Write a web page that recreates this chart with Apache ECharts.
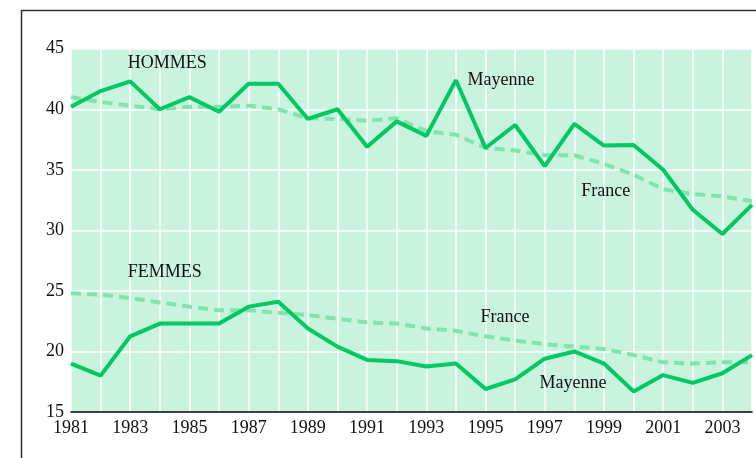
<!DOCTYPE html>
<html>
<head>
<meta charset="utf-8">
<script src="https://cdn.jsdelivr.net/npm/echarts@6/dist/echarts.min.js"></script>
<style>
  html, body { margin: 0; padding: 0; background: #fff; }
  #chart { width: 756px; height: 458px; }
</style>
</head>
<body>
<div id="chart"></div>
<script>
// années
var years = [1981,1982,1983,1984,1985,1986,1987,1988,1989,1990,1991,1992,
             1993,1994,1995,1996,1997,1998,1999,2000,2001,2002,2003,2004];

// hommes
var hommesMayenne = [40.2,41.5,42.3,40.0,41.0,39.8,42.1,42.1,39.2,40.0,36.9,39.0,
                     37.8,42.4,36.8,38.7,35.3,38.8,37.0,37.05,35.0,31.7,29.7,32.1];
var hommesFrance  = [41.0,40.6,40.3,40.0,40.2,40.2,40.3,40.0,39.25,39.2,39.05,39.25,
                     38.2,37.9,36.8,36.6,36.2,36.2,35.5,34.6,33.4,33.0,32.8,32.4];

// femmes
var femmesMayenne = [19.0,18.0,21.25,22.3,22.3,22.3,23.7,24.1,21.9,20.4,19.3,19.2,
                     18.75,19.0,16.9,17.7,19.4,20.0,19.0,16.7,18.05,17.4,18.2,19.7];
var femmesFrance  = [24.8,24.7,24.4,24.05,23.7,23.4,23.4,23.2,23.0,22.7,22.4,22.3,
                     21.9,21.7,21.25,20.9,20.6,20.4,20.2,19.7,19.1,19.0,19.1,19.1];

var yTicks = [15, 20, 25, 30, 35, 40, 45];

// textes dans le graphique : [texte, année, valeur]
var notes = [
  ['HOMMES', 1982.92, 43.8],
  ['Mayenne', 1994.39, 42.4],
  ['France', 1998.23, 33.25],
  ['FEMMES', 1982.92, 26.55],
  ['France', 1994.83, 22.85],
  ['Mayenne', 1996.82, 17.4]
];

function pairs(vals) {
  return years.map(function (y, i) { return [y, vals[i]]; });
}

var police = 'Liberation Serif, Times New Roman, serif';
var vertFonce = '#00c864';
var vertClair = '#80e4ae';

var myChart = echarts.init(document.getElementById('chart'));

var option = {
  animation: false,
  grid: {
    left: 71, right: 4, top: 48.7, bottom: 46,
    show: true, backgroundColor: '#c9f3dd', borderWidth: 0
  },
  xAxis: {
    type: 'value',
    min: years[0], max: years[years.length - 1], interval: 1,
    axisLine: { show: true, onZero: false, lineStyle: { color: '#000', width: 1.5 } },
    axisTick: { show: false },
    axisLabel: {
      color: '#111', fontFamily: police, fontSize: 18, margin: 7,
      formatter: function (v) { return (v - 1981) % 2 === 0 && v < 2004 ? String(v) : ''; }
    },
    splitLine: { show: true, lineStyle: { color: '#fff', width: 1.5 } }
  },
  yAxis: {
    type: 'value',
    min: yTicks[0], max: yTicks[yTicks.length - 1], interval: 5,
    axisLine: { show: false },
    axisTick: { show: false },
    axisLabel: {
      color: '#111', fontFamily: police, fontSize: 18, margin: 7,
      padding: [0, 0, 7, 0]
    },
    splitLine: { show: true, lineStyle: { color: '#fff', width: 1.5 } }
  },
  series: [
    { name: 'Hommes France', type: 'line', data: pairs(hommesFrance), symbol: 'none',
      lineStyle: { color: vertClair, width: 4, type: [10, 6] } },
    { name: 'Femmes France', type: 'line', data: pairs(femmesFrance), symbol: 'none',
      lineStyle: { color: vertClair, width: 4, type: [10, 6] } },
    { name: 'Hommes Mayenne', type: 'line', data: pairs(hommesMayenne), symbol: 'none',
      lineStyle: { color: vertFonce, width: 4 } },
    { name: 'Femmes Mayenne', type: 'line', data: pairs(femmesMayenne), symbol: 'none',
      lineStyle: { color: vertFonce, width: 4 } }
  ]
};

myChart.setOption(option);

// cadre + annotations
var elements = [{
  type: 'rect',
  shape: { x: 21.5, y: 10.5, width: 800, height: 500 },
  style: { fill: 'none', stroke: '#333', lineWidth: 1.5 },
  silent: true
}];
notes.forEach(function (n) {
  var p = myChart.convertToPixel({ gridIndex: 0 }, [n[1], n[2]]);
  elements.push({
    type: 'text', x: p[0], y: p[1],
    style: { text: n[0], fill: '#111', font: '18px ' + police, verticalAlign: 'middle', align: 'left' },
    silent: true
  });
});
myChart.setOption({ graphic: elements });
</script>
</body>
</html>
